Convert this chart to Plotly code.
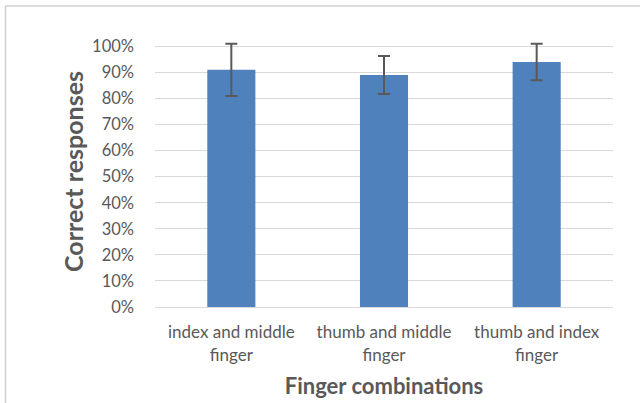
import plotly.graph_objects as go

categories = ["index and middle<br>finger", "thumb and middle<br>finger", "thumb and index<br>finger"]
values = [0.91, 0.89, 0.94]
errors = [0.10, 0.073, 0.07]
y_ticks = [i / 10 for i in range(11)]
y_tick_labels = [f"{i*10}%" for i in range(11)]

FONT = "Lato"
GRAY = "#595959"

W, H = 640, 403
L, R, T, B = 155, 27, 36, 96
PW, PH = W - L - R, H - T - B

fig = go.Figure()
fig.add_trace(go.Bar(
    x=categories, y=values,
    marker=dict(color="#4f81bd", line=dict(width=0)),
    error_y=dict(type="data", array=errors, visible=True, color=GRAY, thickness=2, width=6),
    width=0.315,
))

fig.update_layout(
    width=W, height=H,
    margin=dict(l=L, r=R, t=T, b=B, autoexpand=False),
    paper_bgcolor="white", plot_bgcolor="white",
    showlegend=False,
    font=dict(family=FONT, color=GRAY),
    xaxis=dict(
        automargin=False,
        tickfont=dict(size=17, color=GRAY, family=FONT),
        showgrid=False, showline=True, linecolor="#d9d9d9", linewidth=1,
        ticks="", ticklabelstandoff=10,
        title=dict(text="<b>Finger combinations</b>", font=dict(size=22, color=GRAY, family=FONT), standoff=15),
    ),
    yaxis=dict(
        automargin=False,
        range=[0, 1.04], tickvals=y_ticks, ticktext=y_tick_labels,
        tickfont=dict(size=16.5, color=GRAY, family=FONT),
        showgrid=True, gridcolor="#d9d9d9", gridwidth=1,
        zeroline=False, showline=False, ticks="", ticklabelstandoff=20,
        title=dict(text="<b>Correct responses</b>", font=dict(size=25, color=GRAY, family=FONT), standoff=1),
    ),
    shapes=[
        # outer chart border (top and left edges visible in the crop)
        dict(type="line", xref="paper", yref="paper",
             x0=(5 - L) / PW, x1=(W + 10 - L) / PW,
             y0=(H - B - 6) / PH, y1=(H - B - 6) / PH,
             line=dict(color="#d0d0d0", width=1.5)),
        dict(type="line", xref="paper", yref="paper",
             x0=(5.5 - L) / PW, x1=(5.5 - L) / PW,
             y0=-B / PH - 0.1, y1=(H - B - 6) / PH,
             line=dict(color="#d0d0d0", width=1.5)),
    ],
)

fig.write_html("out.html", config={"displayModeBar": False},
               post_script="document.body.style.margin='0';")
